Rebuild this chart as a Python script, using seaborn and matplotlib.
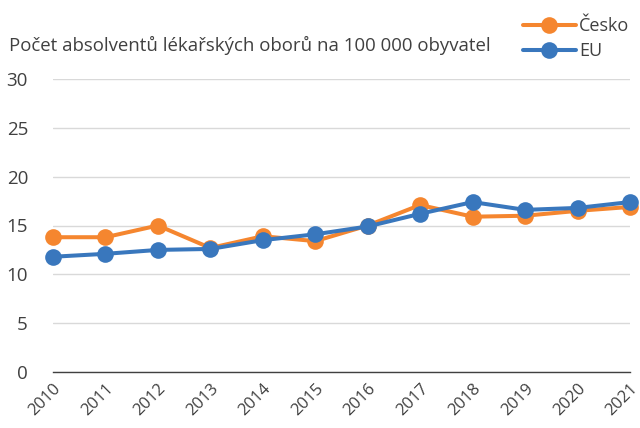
import pandas as pd
import matplotlib.pyplot as plt
import seaborn as sns

# data
years = ['2010', '2011', '2012', '2013', '2014', '2015', '2016', '2017', '2018', '2019', '2020', '2021']
cesko = [13.8, 13.8, 15.0, 12.7, 13.9, 13.4, 15.0, 17.1, 15.9, 16.0, 16.5, 16.9]
eu = [11.8, 12.1, 12.5, 12.6, 13.5, 14.1, 14.9, 16.2, 17.4, 16.6, 16.8, 17.4]

df = pd.DataFrame({
    'rok': list(range(len(years))) * 2,
    'hodnota': cesko + eu,
    'zeme': ['Česko'] * len(years) + ['EU'] * len(years),
})

sns.set_style('white')
plt.rcParams['font.family'] = ['Open Sans', 'DejaVu Sans']
text_col = '#404040'

fig = plt.figure(figsize=(6.4, 4.28), dpi=100)
ax = fig.add_axes([53 / 640, 1 - 372 / 428, (630 - 53) / 640, (372 - 79) / 428])

sns.lineplot(data=df, x='rok', y='hodnota', hue='zeme', marker='o',
             palette={'Česko': '#f5862f', 'EU': '#3977bd'},
             linewidth=2.9, markersize=12, markeredgewidth=0,
             ax=ax, clip_on=False, zorder=3)

ax.set_xlim(0, len(years) - 1)
ax.set_ylim(0, 30)
ax.set_yticks([0, 5, 10, 15, 20, 25, 30])
ax.set_xticks(range(len(years)))
ax.set_xticklabels(years, rotation=45, ha='right', rotation_mode='anchor')
ax.tick_params(axis='x', direction='in', length=5, color=text_col, labelsize=12,
               labelcolor=text_col, pad=6)
ax.tick_params(axis='y', length=0, labelsize=13.5, labelcolor=text_col, pad=18)
ax.grid(axis='y', color='#d9d9d9', linewidth=1)
ax.set_axisbelow(True)
for s in ['left', 'right', 'top']:
    ax.spines[s].set_visible(False)
ax.spines['bottom'].set_color(text_col)
ax.spines['bottom'].set_linewidth(1)
ax.set_xlabel('')
ax.set_ylabel('')

fig.text(9 / 640, 1 - 45 / 428, 'Počet absolventů lékařských oborů na 100 000 obyvatel',
         fontsize=13.4, color=text_col, va='center', ha='left')

leg = ax.legend(loc='upper left', bbox_to_anchor=(516 / 640, 1 - 10 / 428),
                bbox_transform=fig.transFigure, frameon=False, fontsize=13,
                handlelength=2.9, handletextpad=0.2, labelspacing=0.4, borderaxespad=0)
for t in leg.get_texts():
    t.set_color(text_col)

fig.savefig('out.png', dpi=100)
